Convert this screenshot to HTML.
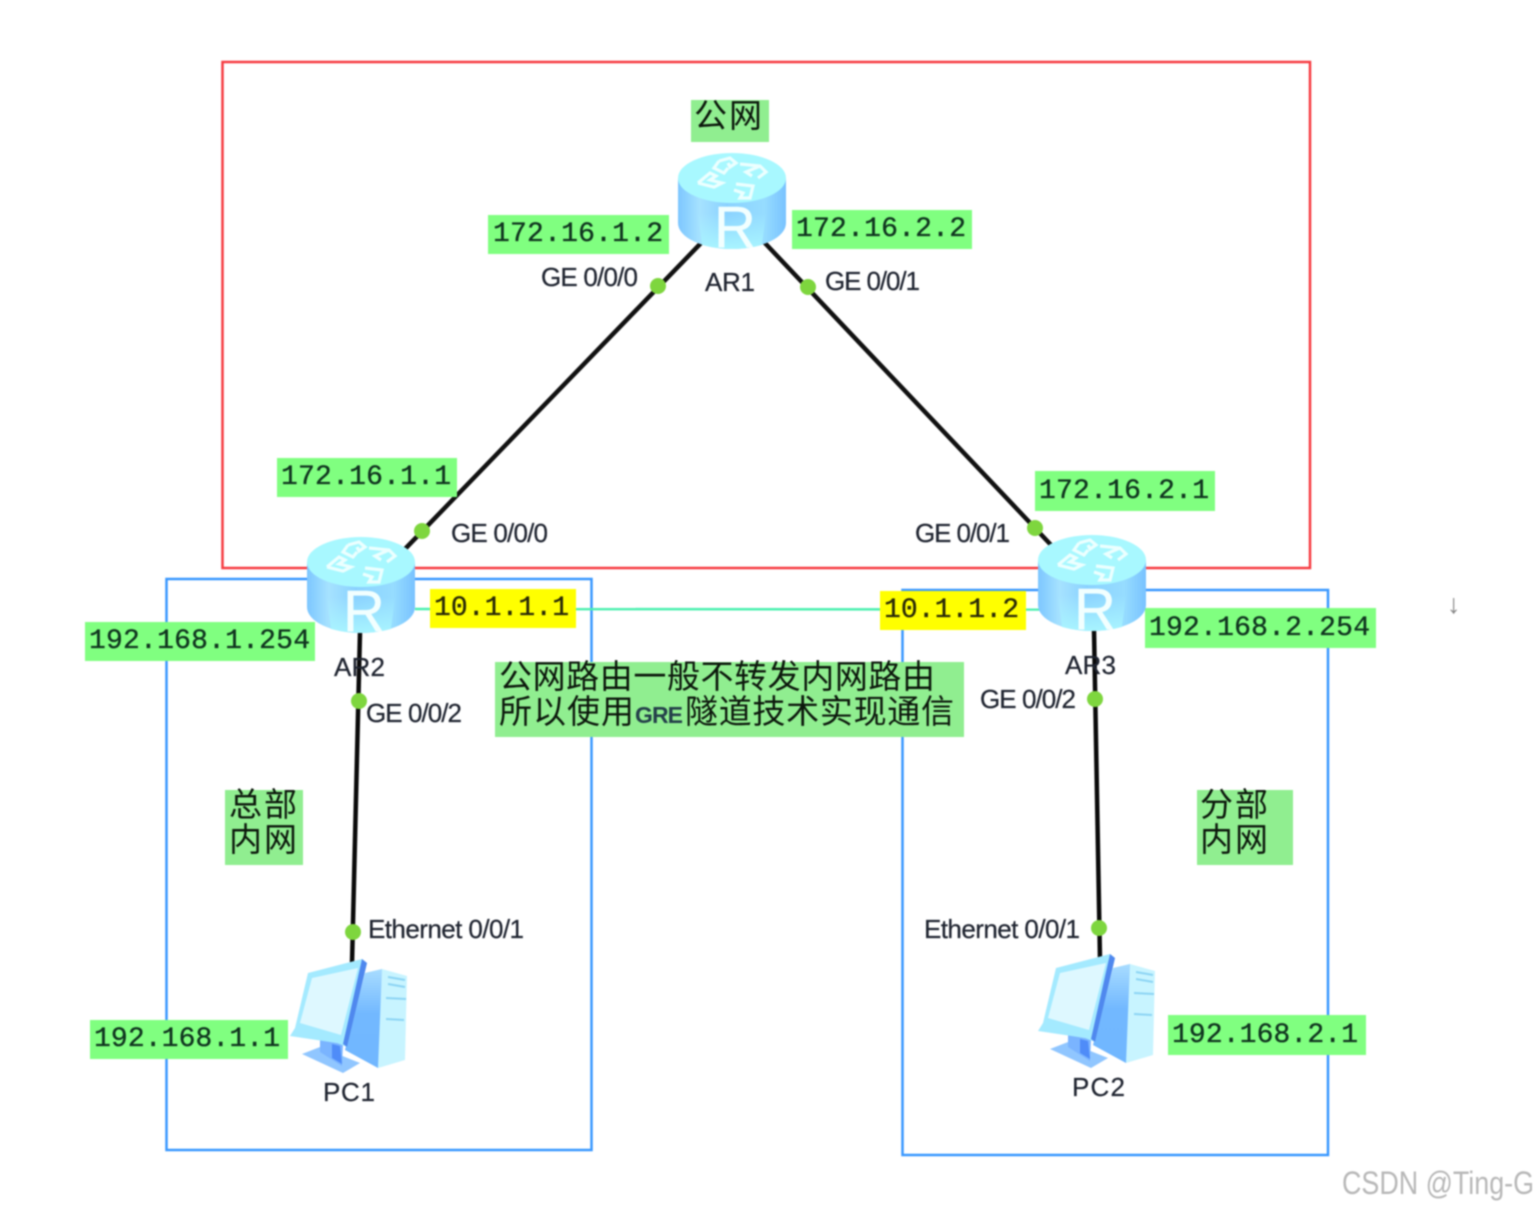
<!DOCTYPE html>
<html><head><meta charset="utf-8"><style>
html,body{margin:0;padding:0;background:#fff}
svg{display:block;filter:blur(.7px)}
.ip{font:28px "Liberation Mono",monospace;fill:#10351f;stroke:#10351f;stroke-width:.35}
.lb{font:26px "Liberation Sans",sans-serif;fill:#1f2430;stroke:#1f2430;stroke-width:.25}
.cn{font:33px "WenQuanYi Zen Hei","Noto Sans CJK SC",sans-serif;fill:#0c180c}
</style></head><body>
<svg width="1538" height="1210" viewBox="0 0 1538 1210" xmlns="http://www.w3.org/2000/svg">
<defs>
<linearGradient id="body" x1="0" x2="1" y1="0" y2="0">
<stop offset="0" stop-color="#7cc6ff"/><stop offset=".2" stop-color="#a6e2ff"/><stop offset=".45" stop-color="#8ad2ff"/><stop offset=".8" stop-color="#96dcff"/><stop offset="1" stop-color="#78c2ff"/>
</linearGradient>
<linearGradient id="bot" x1="0" x2="0" y1="0" y2="1">
<stop offset="0" stop-color="#a8f4ff" stop-opacity="0"/><stop offset="1" stop-color="#a8f4ff"/>
</linearGradient>
<linearGradient id="side" x1="0" x2="0" y1="0" y2="1">
<stop offset="0" stop-color="#a8dcff"/><stop offset=".45" stop-color="#72b8ff"/><stop offset="1" stop-color="#70b6ff"/>
</linearGradient>
<g id="router">
<path d="M0,25V70A54,26 0 0 0 108,70V25Z" fill="url(#body)"/>
<path d="M20,60H88L84,92Q54,100 24,92Z" fill="url(#bot)"/>
<ellipse cx="54" cy="25" rx="54" ry="25" fill="#a8f8ff"/>
<g fill="none" stroke="#ecffff" stroke-width="3.200">
<path d="M41,8L52,5L58,10L52,14L50,10M41,8L36,15L46,20L50,15"/>
<path d="M62,11L82,13L88,19L80,25M82,13L68,19L74,23"/>
<path d="M20,30L32,20L38,23L32,27L44,30L36,34L20,30"/>
<path d="M58,31L75,33L72,45L62,45L65,40L56,37"/>
</g>
<text x="36" y="94" font-family="Liberation Sans,sans-serif" font-size="58" fill="#f2ffff" stroke="#f2ffff" stroke-width=".4">R</text>
</g>
<g id="pc">
<polygon points="365,973 382,969 407,976 405,1060 378,1068 347,1047" fill="#c8f4ff"/>
<polygon points="365,973 382,969 378,1068 345,1050" fill="url(#side)"/>
<path d="M388,977L405,980M388,984L405,987M386,998L406,999M386,1019L404,1020" stroke="#8cd4f4" stroke-width="2" fill="none"/>
<polygon points="302,1054 320,1047 360,1063 343,1073" fill="#90c6ff"/>
<polygon points="320,1040 343,1044 342,1066 320,1052" fill="#7ab4ff"/>
<polygon points="332,1044 340,1046 342,1064 332,1058" fill="#4f8cf8"/>
<polygon points="308,973 362,959 367,963 347,1047 337,1043 290,1036 295,1028" fill="#a4eaff"/>
<polygon points="362,959 367,963 347,1047 343,1044" fill="#4f88ee"/>
<polygon points="312,978 358,968 341,1035 300,1023" fill="#def8ff"/>
</g>
</defs>
<rect width="1538" height="1210" fill="#fff"/>

<rect x="222.500" y="62" width="1087.500" height="506" fill="none" stroke="#f63c42" stroke-width="2.500"/>
<rect x="166.500" y="579" width="425" height="571" fill="none" stroke="#3a98ff" stroke-width="2.500"/>
<rect x="902.500" y="590" width="425.500" height="565" fill="none" stroke="#3a98ff" stroke-width="2.500"/>
<line x1="415" y1="609" x2="1040" y2="609.500" stroke="#4df0b0" stroke-width="2.500"/>

<line x1="703" y1="241" x2="405" y2="549" stroke="#111" stroke-width="4.500"/>
<line x1="763" y1="241" x2="1052" y2="546" stroke="#111" stroke-width="4.500"/>
<line x1="360" y1="632" x2="352" y2="964" stroke="#0a0a0a" stroke-width="4.500"/>
<line x1="1094" y1="630" x2="1100" y2="960" stroke="#0a0a0a" stroke-width="4.500"/>

<g fill="#80ff80">
<rect x="488" y="215" width="181" height="39"/>
<rect x="792" y="210" width="180" height="39"/>
<rect x="277" y="458" width="180" height="39"/>
<rect x="1035" y="471" width="180" height="40"/>
<rect x="85" y="622" width="230" height="39"/>
<rect x="1145" y="608" width="231" height="40"/>
<rect x="90" y="1020" width="198" height="39"/>
<rect x="1168" y="1015" width="198" height="40"/>
</g>
<g fill="#ffff00">
<rect x="430" y="589" width="146" height="39"/>
<rect x="880" y="591" width="146" height="39"/>
</g>
<g fill="#90ee90">
<rect x="691" y="100" width="78" height="42"/>
<rect x="495" y="662" width="469" height="75"/>
<rect x="225" y="790" width="78" height="75"/>
<rect x="1197" y="790" width="96" height="75"/>
</g>

<g class="ip">
<text x="493" y="241" class="ip" textLength="170">172.16.1.2</text>
<text x="796" y="236" class="ip" textLength="170">172.16.2.2</text>
<text x="281" y="484" class="ip" textLength="170">172.16.1.1</text>
<text x="1039" y="498" class="ip" textLength="170">172.16.2.1</text>
<text x="89" y="648" class="ip" textLength="221">192.168.1.254</text>
<text x="1149" y="635" class="ip" textLength="221">192.168.2.254</text>
<text x="94" y="1046" class="ip" textLength="186">192.168.1.1</text>
<text x="1172" y="1042" class="ip" textLength="186">192.168.2.1</text>
<text x="434" y="615" class="ip" textLength="135" style="fill:#2a2a08;stroke:#2a2a08">10.1.1.1</text>
<text x="884" y="617" class="ip" textLength="135" style="fill:#2a2a08;stroke:#2a2a08">10.1.1.2</text>
</g>

<text x="694" y="127" class="cn" textLength="68">公网</text>
<text x="499" y="688" class="cn" textLength="436">公网路由一般不转发内网路由</text>
<text x="499" y="723" class="cn" textLength="135">所以使用</text>
<text x="635" y="723" font-family="Liberation Sans,sans-serif" font-size="23" font-weight="bold" fill="#24404a" textLength="48">GRE</text>
<text x="685" y="723" class="cn" textLength="269">隧道技术实现通信</text>
<text x="229" y="816" class="cn" textLength="68">总部</text>
<text x="229" y="851" class="cn" textLength="68">内网</text>
<text x="1200" y="816" class="cn" textLength="68">分部</text>
<text x="1200" y="851" class="cn" textLength="68">内网</text>

<use href="#router" x="678" y="153"/>
<use href="#router" x="307" y="537"/>
<use href="#router" x="1038" y="535"/>
<use href="#pc"/>
<use href="#pc" x="748" y="-5"/>

<g fill="#7ed63e">
<circle cx="658" cy="286" r="8"/><circle cx="808" cy="287" r="8"/>
<circle cx="422" cy="531" r="8"/><circle cx="1035" cy="528" r="8"/>
<circle cx="359" cy="701" r="8"/><circle cx="1095" cy="699" r="8"/>
<circle cx="353" cy="932" r="8"/><circle cx="1099" cy="928" r="8"/>
</g>

<text x="541" y="286" class="lb" textLength="97">GE 0/0/0</text>
<text x="825" y="290" class="lb" textLength="95">GE 0/0/1</text>
<text x="451" y="542" class="lb" textLength="97">GE 0/0/0</text>
<text x="915" y="542" class="lb" textLength="95">GE 0/0/1</text>
<text x="366" y="722" class="lb" textLength="96">GE 0/0/2</text>
<text x="980" y="708" class="lb" textLength="96">GE 0/0/2</text>
<text x="368" y="938" class="lb" textLength="156">Ethernet 0/0/1</text>
<text x="924" y="938" class="lb" textLength="156">Ethernet 0/0/1</text>
<text x="705" y="291" class="lb" textLength="50">AR1</text>
<text x="334" y="676" class="lb" textLength="51">AR2</text>
<text x="1065" y="674" class="lb" textLength="51">AR3</text>
<text x="323" y="1101" class="lb" textLength="52">PC1</text>
<text x="1072" y="1096" class="lb" textLength="53">PC2</text>

<text x="1447" y="613" font-family="Liberation Sans,sans-serif" font-size="27" fill="#888">↓</text>
<text x="1342" y="1194" font-family="Liberation Sans,sans-serif" font-size="32" fill="#b8b8b8" textLength="192" lengthAdjust="spacingAndGlyphs">CSDN @Ting-G</text>
</svg>
</body></html>
